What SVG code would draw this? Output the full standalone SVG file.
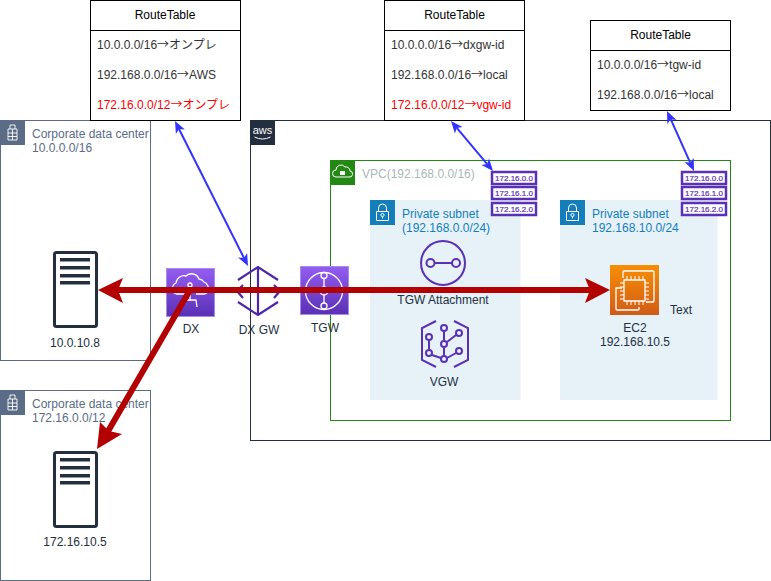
<svg xmlns="http://www.w3.org/2000/svg" width="771" height="581" viewBox="0 0 771 581">
<style>
text{font-family:"Liberation Sans","Noto Sans CJK JP",sans-serif;font-size:12px;fill:#232F3E}
.m{text-anchor:middle}
.tb{fill:#fff;stroke:#000;stroke-width:1}
.k{fill:#000;text-anchor:middle}
.row{fill:#333}
.red{fill:#FF0000}
.a{font-family:"Noto Sans CJK JP",sans-serif}
.dc{fill:#fff;stroke:#5A6C86;stroke-width:1}
.dct{fill:#5A6C86}
.sub{fill:#147EBA}
.ic{fill:none;stroke:#fff;stroke-width:1.3;stroke-linejoin:round}
.pu{fill:none;stroke:#5A30B5;stroke-width:2}
.pu3{fill:none;stroke:#4D27AA;stroke-width:2.2}
.ipb{fill:#fff;stroke:#5A30B5;stroke-width:2.5}
.ipt{font-size:8px;fill:#5A30B5;stroke:#5A30B5;stroke-width:.2;text-anchor:middle}
.srv{fill:#fff;stroke:#232F3E;stroke-width:3}
.bar{fill:#232F3E}
.rd{fill:none;stroke:#B30000;stroke-width:6}
.bl{fill:none;stroke:#3333FF;stroke-width:2}
.blh{fill:#3333FF}
.rh{fill:#B30000}
</style>
<defs>
<linearGradient id="p" x1="0" y1="0" x2="0" y2="1"><stop offset="0" stop-color="#945DF2"/><stop offset="1" stop-color="#5A30B5"/></linearGradient>
<linearGradient id="o" x1="0" y1="0" x2="0" y2="1"><stop offset="0" stop-color="#F78E04"/><stop offset="1" stop-color="#D05C17"/></linearGradient>
<g id="bld"><rect width="25" height="25" fill="#5A6C86"/><path d="M8 20V9h2V5h5v4h2v11zM10 9h5M8 13h9M8 16.500h9M12.500 9v11" fill="none" stroke="#fff" stroke-width=".9"/></g>
<g id="lock"><rect width="25" height="25" fill="#147EBA"/><path d="M6.500 11.500h12v9h-12zM8.500 11.500V8a4 4 0 0 1 8 0v3.500" fill="none" stroke="#fff" stroke-width="1"/><circle cx="12.500" cy="15" r="1.600" fill="none" stroke="#fff"/><path d="M12.500 16.500v2" stroke="#fff"/></g>
<g id="srv"><rect x="54.500" y="1.500" width="42" height="74" rx="2" class="srv"/><rect x="60" y="7" width="30" height="3.500" class="bar"/><rect x="60" y="15" width="30" height="3.500" class="bar"/><rect x="60" y="23" width="30" height="3.500" class="bar"/><rect x="60" y="30" width="30" height="3.500" class="bar"/></g>
</defs>

<g id="aws-cloud"><rect x="250.500" y="120.500" width="520" height="320" fill="#fff" stroke="#232F3E"/><rect x="250" y="120" width="25" height="25" fill="#232F3E"/><text x="262.500" y="134" class="m" style="fill:#fff;font-size:11px">aws</text><path d="M254.500 137q8 4 16 0" fill="none" stroke="#fff"/></g>
<g id="vpc"><rect x="330.500" y="160.500" width="400" height="260" fill="#fff" stroke="#248814"/><rect x="330" y="160" width="25" height="25" fill="#248814"/><path d="M336 177h13a3 3 0 0 0 1-6 4 4 0 0 0-5-4 5 5 0 0 0-9 3 3.500 3.500 0 0 0 0 7z" fill="none" stroke="#fff"/><rect x="340" y="171" width="5" height="4" fill="#fff"/><text x="362" y="178" style="fill:#AAB7B8">VPC(192.168.0.0/16)</text></g>
<g id="subnet-1"><rect x="370" y="200" width="150.500" height="200" fill="#E6F2F8"/><use href="#lock" x="370" y="200"/><text x="402" y="218" class="sub">Private subnet</text><text x="402" y="232" class="sub">(192.168.0.0/24)</text></g>
<g id="subnet-2"><rect x="560" y="200" width="157.500" height="200" fill="#E6F2F8"/><use href="#lock" x="560" y="200"/><text x="592" y="218" class="sub">Private subnet</text><text x="592" y="232" class="sub">192.168.10.0/24</text></g>

<g id="dc-1"><rect x="0.500" y="120.500" width="150" height="240" class="dc"/><use href="#bld" x="0" y="120"/><text x="32" y="138" class="dct">Corporate data center</text><text x="32" y="152" class="dct">10.0.0.0/16</text></g>
<g id="dc-2"><rect x="0.500" y="390.500" width="150" height="190" class="dc"/><use href="#bld" x="0" y="390"/><text x="32" y="408" class="dct">Corporate data center</text><text x="32" y="422" class="dct">172.16.0.0/12</text></g>

<g id="server-1"><use href="#srv" y="251"/><text x="75" y="347" class="m">10.0.10.8</text></g>
<g id="server-2"><use href="#srv" y="451"/><text x="75" y="546" class="m">172.16.10.5</text></g>

<g id="rt-1"><rect x="90.500" y="0.500" width="150" height="120" class="tb"/><path d="M90.500 30.500h150" stroke="#000"/><text x="165" y="19" class="k">RouteTable</text><text x="97" y="49" class="row">10.0.0.0/16<tspan class="a">→</tspan>オンプレ</text><text x="97" y="79" class="row">192.168.0.0/16<tspan class="a">→</tspan>AWS</text><text x="97" y="109" class="red">172.16.0.0/12<tspan class="a">→</tspan>オンプレ</text></g>
<g id="rt-2"><rect x="384.500" y="0.500" width="140" height="120" class="tb"/><path d="M384.500 30.500h140" stroke="#000"/><text x="454.500" y="19" class="k">RouteTable</text><text x="391" y="49" class="row">10.0.0.0/16<tspan class="a">→</tspan>dxgw-id</text><text x="391" y="79" class="row">192.168.0.0/16<tspan class="a">→</tspan>local</text><text x="391" y="109" class="red">172.16.0.0/12<tspan class="a">→</tspan>vgw-id</text></g>
<g id="rt-3"><rect x="590.500" y="20.500" width="140" height="90" class="tb"/><path d="M590.500 50.500h140" stroke="#000"/><text x="660.500" y="39" class="k">RouteTable</text><text x="597" y="69" class="row">10.0.0.0/16<tspan class="a">→</tspan>tgw-id</text><text x="597" y="99" class="row">192.168.0.0/16<tspan class="a">→</tspan>local</text></g>

<g id="ips-1"><rect x="492" y="172" width="44" height="12" class="ipb"/><text x="514" y="181" class="ipt">172.16.0.0</text><rect x="492" y="187" width="44" height="12" class="ipb"/><text x="514" y="196" class="ipt">172.16.1.0</text><rect x="492" y="203" width="44" height="12" class="ipb"/><text x="514" y="212" class="ipt">172.16.2.0</text></g>
<g id="ips-2"><rect x="682" y="172" width="44" height="12" class="ipb"/><text x="704" y="181" class="ipt">172.16.0.0</text><rect x="682" y="187" width="44" height="12" class="ipb"/><text x="704" y="196" class="ipt">172.16.1.0</text><rect x="682" y="203" width="44" height="12" class="ipb"/><text x="704" y="212" class="ipt">172.16.2.0</text></g>

<g id="dx"><rect x="166.500" y="268.500" width="48" height="48" fill="url(#p)" stroke="#A98BE8"/><path d="M176 294a6 6 0 0 1 0-11 8 8 0 0 1 10-7 8 8 0 0 1 13 3 7 7 0 0 1 5 3 7 7 0 0 1 4 9 5 5 0 0 1-4 3h-8M185 294h-9" class="ic"/><circle cx="190" cy="285" r="2" class="ic"/><path d="M190 287v14M183 300h13l1 7" class="ic"/><text x="191" y="333" class="m">DX</text></g>
<g id="dx-gw"><path d="M238 280l20-13 20 13M238 302l20 13 20-13M258 267v48M243 285l-6 6 6 7M274 285l6 6-6 7" class="pu3"/><text x="259" y="334" class="m">DX GW</text></g>
<g id="tgw"><rect x="300.500" y="266.500" width="48" height="48" fill="url(#p)" stroke="#A98BE8"/><circle cx="324" cy="291" r="18.500" class="ic"/><path d="M324 279v8M324 295v8M305.500 291h14M328.500 291h14" class="ic"/><circle cx="324" cy="275.500" r="3" class="ic"/><circle cx="324" cy="291" r="4" class="ic"/><circle cx="324" cy="306" r="3" class="ic"/><text x="325" y="332" class="m">TGW</text></g>
<g id="tgw-attachment"><circle cx="443" cy="263" r="22" class="pu"/><circle cx="430.500" cy="263" r="4" class="pu"/><circle cx="456" cy="263" r="4" class="pu"/><path d="M434.500 263h17.500" class="pu"/><text x="443" y="304" class="m">TGW Attachment</text></g>
<g id="vgw"><path d="M436 321l-14 7v32l14 7M454 321l14 7v32l-14 7M429 341v8M432 355l9 3M444 332v8M444 348v7M447 342l9-7M447 358l9-5" class="pu"/><circle cx="429" cy="337" r="3" class="pu"/><circle cx="429" cy="353" r="3" class="pu"/><circle cx="444" cy="328" r="3" class="pu"/><circle cx="444" cy="344" r="3" class="pu"/><circle cx="444" cy="359" r="3" class="pu"/><circle cx="459" cy="333" r="3" class="pu"/><circle cx="459" cy="351" r="3" class="pu"/><text x="444" y="386" class="m">VGW</text></g>
<g id="ec2"><rect x="610" y="265" width="49" height="50" fill="url(#o)"/><path d="M623 278v-6a1 1 0 0 1 1-1h29a1 1 0 0 1 1 1v29a1 1 0 0 1-1 1h-7M622 288h-6v21a1 1 0 0 0 1 1h21a1 1 0 0 0 1-1v-2" class="ic"/><rect x="624" y="280" width="21" height="21" class="ic"/><path d="M627 276v4M631 276v4M635 276v4M639 276v4M643 276v4M627 301v4M631 301v4M635 301v4M639 301v4M643 301v4M620 283h4M620 287h4M620 291h4M620 295h4M620 299h4M645 283h4M645 287h4M645 291h4M645 295h4M645 299h4" stroke="#fff" stroke-width="1" fill="none"/><text x="635" y="332" class="m">EC2</text><text x="635" y="346" class="m">192.168.10.5</text><text x="670" y="314" style="fill:#232F3E">Text</text></g>

<g id="connectors">
<path d="M115 290H595" class="rd"/>
<path d="M98 290l25-12-5 12 5 13zM610 290l-25 13 5-13-5-12z" class="rh"/>
<path d="M190 290L107 433" class="rd"/>
<path d="M97 449l3-27 9 9 13 3z" class="rh"/>
<path d="M179 129L244 258" class="bl"/>
<path d="M175 121l9.900 8.500-5.900-.500-3.100 5zM248 266l-9.900-8.500 5.900.500 3.100-5z" class="blh"/>
<path d="M456.800 127.900L487.200 164.100" class="bl"/>
<path d="M451 121l11.500 6-5.700.900-1.900 5.500zM493 171l-11.500-6 5.700-.900 1.900-5.500z" class="blh"/>
<path d="M670.700 119.200L690.300 162.800" class="bl"/>
<path d="M667 111l9.500 8.900-5.800-.700-3.400 4.700zM694 171l-9.500-8.900 5.800.700 3.400-4.700z" class="blh"/>
</g>
</svg>
